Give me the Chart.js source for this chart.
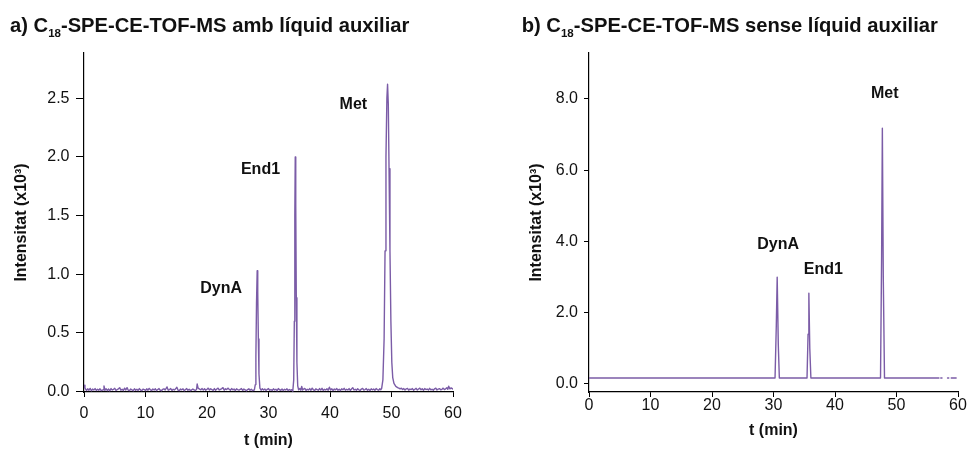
<!DOCTYPE html>
<html>
<head>
<meta charset="utf-8">
<title>C18-SPE-CE-TOF-MS</title>
<script src="https://cdn.jsdelivr.net/npm/chart.js@4/dist/chart.umd.min.js"></script>
<style>
  html, body { margin: 0; padding: 0; background: #fff; }
  #wrap { position: relative; width: 974px; height: 451px; overflow: hidden; }
  .panel { position: absolute; top: 0; width: 487px; height: 451px; }
</style>
</head>
<body>
<div id="wrap">
  <div class="panel" style="left:0"><canvas id="chartA" width="487" height="451"></canvas></div>
  <div class="panel" style="left:487px"><canvas id="chartB" width="487" height="451"></canvas></div>
</div>
<script>
const FONT = "'Liberation Sans', Arial, Helvetica, sans-serif";
const TRACE = '#7b5ca7';
const INK = '#111';

// shared time axis (min)
const xTicks = [0, 10, 20, 30, 40, 50, 60];
// intensity ticks (x10^3)
const yTicksA = [0, 0.5, 1.0, 1.5, 2.0, 2.5];
const yTicksB = [0, 2, 4, 6, 8];

// a) electropherogram with sheath liquid
const timeA = [
  0.00, 0.15, 0.40, 0.60, 0.80, 1.00, 1.20, 1.40, 1.60, 1.80, 2.00, 2.20, 2.40, 2.60, 2.80, 3.10, 3.25, 3.40, 3.60, 3.80,
  4.00, 4.20, 4.40, 4.60, 4.80, 5.00, 5.20, 5.40, 5.60, 5.80, 6.00, 6.20, 6.40, 6.60, 6.80, 7.00, 7.20, 7.40, 7.60, 7.80,
  8.00, 8.20, 8.40, 8.60, 8.80, 9.00, 9.20, 9.40, 9.60, 9.80, 10.00, 10.20, 10.40, 10.60, 10.80, 11.00, 11.20, 11.40, 11.60, 11.80,
  12.00, 12.20, 12.40, 12.60, 12.80, 13.00, 13.20, 13.50, 13.70, 13.90, 14.10, 14.30, 14.50, 14.70, 14.90, 15.10, 15.30, 15.50, 15.70, 15.90,
  16.10, 16.30, 16.50, 16.70, 16.90, 17.10, 17.30, 17.50, 17.70, 17.90, 18.10, 18.30, 18.40, 18.55, 18.80, 19.00, 19.20, 19.40, 19.60, 19.80,
  20.00, 20.20, 20.40, 20.60, 20.80, 21.00, 21.20, 21.40, 21.60, 21.80, 22.00, 22.20, 22.40, 22.60, 22.80, 23.00, 23.20, 23.40, 23.60, 23.80,
  24.00, 24.20, 24.40, 24.60, 24.80, 25.00, 25.20, 25.40, 25.60, 25.80, 26.00, 26.20, 26.40, 26.60, 26.80, 27.00, 27.20, 27.40, 27.70,
  27.85, 27.95, 28.05, 28.16, 28.25, 28.35, 28.45, 28.60, 28.80,
  29.00, 29.20, 29.40, 29.60, 29.80, 30.00, 30.20, 30.40, 30.60, 30.80, 31.00, 31.20, 31.40, 31.60, 31.80, 32.00, 32.20, 32.40, 32.60, 32.80,
  33.00, 33.20, 33.40, 33.60, 33.80, 33.95,
  34.10, 34.20, 34.28, 34.35, 34.43, 34.52, 34.62, 34.75, 34.90,
  35.10, 35.25, 35.40, 35.55, 35.70, 35.90, 36.10, 36.30, 36.50, 36.70, 36.90, 37.10, 37.30, 37.50, 37.70, 37.90, 38.10, 38.30, 38.50, 38.70,
  38.90, 39.10, 39.30, 39.50, 39.70, 39.90, 40.10, 40.30, 40.50, 40.70, 40.90, 41.10, 41.30, 41.50, 41.70, 41.90, 42.10, 42.30, 42.50, 42.70,
  42.90, 43.10, 43.30, 43.50, 43.70, 43.90, 44.10, 44.30, 44.50, 44.70, 44.90, 45.10, 45.30, 45.50, 45.70, 45.90, 46.10, 46.30, 46.50, 46.70,
  46.90, 47.10, 47.30, 47.50, 47.70, 47.90, 48.10, 48.25, 48.40,
  48.60, 48.80, 48.95, 49.10, 49.25, 49.36, 49.48, 49.60, 49.75, 49.90, 50.05, 50.20, 50.40, 50.70, 51.00,
  51.20, 51.40, 51.60, 51.80, 52.00, 52.20, 52.40, 52.60, 52.80, 53.00, 53.20, 53.40, 53.60, 53.80, 54.00, 54.20, 54.40, 54.60, 54.80, 55.00,
  55.20, 55.40, 55.60, 55.80, 56.00, 56.20, 56.40, 56.60, 56.80, 57.00, 57.20, 57.40, 57.60, 57.80, 58.00, 58.20, 58.40, 58.60, 58.80, 59.00,
  59.15, 59.30, 59.50, 59.70, 60.00
];
const intA = [
  0.055, 0.030, 0.010, 0.024, 0.012, 0.028, 0.008, 0.022, 0.014, 0.026, 0.010, 0.020, 0.012, 0.024, 0.009, 0.016, 0.048, 0.012, 0.024, 0.010,
  0.022, 0.008, 0.026, 0.014, 0.020, 0.028, 0.010, 0.018, 0.024, 0.034, 0.012, 0.020, 0.010, 0.030, 0.014, 0.034, 0.012, 0.010, 0.022, 0.016,
  0.008, 0.024, 0.012, 0.020, 0.010, 0.026, 0.014, 0.009, 0.022, 0.018, 0.010, 0.024, 0.012, 0.028, 0.016, 0.010, 0.022, 0.014, 0.024, 0.009,
  0.018, 0.026, 0.012, 0.008, 0.020, 0.024, 0.014, 0.040, 0.012, 0.018, 0.026, 0.010, 0.020, 0.014, 0.024, 0.038, 0.012, 0.010, 0.022, 0.016,
  0.024, 0.008, 0.018, 0.026, 0.012, 0.020, 0.010, 0.014, 0.022, 0.016, 0.010, 0.018, 0.065, 0.030, 0.022, 0.016, 0.026, 0.014, 0.024, 0.012,
  0.020, 0.030, 0.014, 0.024, 0.018, 0.010, 0.026, 0.012, 0.022, 0.030, 0.014, 0.020, 0.026, 0.034, 0.012, 0.024, 0.018, 0.030, 0.020, 0.012,
  0.026, 0.016, 0.022, 0.010, 0.024, 0.018, 0.012, 0.020, 0.026, 0.010, 0.022, 0.016, 0.008, 0.018, 0.024, 0.012, 0.020, 0.010, 0.014,
  0.060, 0.300, 0.750, 1.030, 0.850, 0.450, 0.150, 0.030, 0.012,
  0.024, 0.014, 0.022, 0.010, 0.020, 0.026, 0.012, 0.018, 0.010, 0.024, 0.014, 0.020, 0.008, 0.026, 0.016, 0.012, 0.022, 0.010, 0.020, 0.014,
  0.024, 0.010, 0.018, 0.012, 0.016, 0.004,
  0.100, 0.600, 1.500, 2.000, 1.600, 0.800, 0.250, 0.050, 0.015,
  0.026, 0.012, 0.045, 0.014, 0.022, 0.028, 0.010, 0.020, 0.014, 0.026, 0.012, 0.030, 0.016, 0.010, 0.024, 0.018, 0.012, 0.026, 0.014, 0.028,
  0.010, 0.020, 0.014, 0.024, 0.012, 0.038, 0.014, 0.024, 0.010, 0.022, 0.016, 0.026, 0.012, 0.020, 0.010, 0.024, 0.016, 0.028, 0.012, 0.020,
  0.014, 0.026, 0.010, 0.022, 0.034, 0.014, 0.020, 0.012, 0.024, 0.016, 0.010, 0.022, 0.028, 0.014, 0.018, 0.026, 0.012, 0.020, 0.010, 0.024,
  0.016, 0.022, 0.012, 0.026, 0.018, 0.012, 0.024, 0.016, 0.028,
  0.100, 0.450, 1.200, 2.000, 2.500, 2.620, 2.450, 1.900, 1.200, 0.600, 0.250, 0.120, 0.070, 0.045, 0.035,
  0.030, 0.024, 0.030, 0.018, 0.026, 0.014, 0.024, 0.028, 0.012, 0.022, 0.018, 0.026, 0.012, 0.020, 0.028, 0.014, 0.022, 0.030, 0.016, 0.024,
  0.012, 0.026, 0.018, 0.022, 0.014, 0.028, 0.016, 0.020, 0.012, 0.024, 0.030, 0.014, 0.022, 0.026, 0.016, 0.020, 0.030, 0.018, 0.024, 0.034,
  0.020, 0.046, 0.024, 0.032, 0.022
];

// b) electropherogram without sheath liquid
const timeB = [
  0.00, 30.25, 30.45, 30.60, 30.78, 30.95,
  35.45, 35.62, 35.75, 35.90, 36.08,
  47.40, 47.58, 47.70, 47.85, 48.05,
  56.90, 57.00, 57.20, 57.40, 57.60, 58.30, 58.50, 58.70, 58.90, 59.70
];
const intB = [
  0.17, 0.17, 1.60, 3.00, 1.10, 0.17,
  0.17, 1.40, 2.55, 1.00, 0.17,
  0.17, 3.60, 7.18, 3.00, 0.17,
  0.17, null, 0.17, 0.17, null, 0.17, 0.17, null, 0.17, 0.17
];

const peakNames = ['DynA', 'End1', 'Met'];
// label anchors in data units (time, intensity)
const tagTimeA = [22.3, 28.7, 43.8];
const tagIntA = [0.88, 1.89, 2.45];
const tagTimeB = [30.75, 38.1, 48.1];
const tagIntB = [3.92, 3.2, 8.14];

function drawTitle(ctx, x, base, lead, sub, tail) {
  ctx.save();
  ctx.fillStyle = INK;
  ctx.textBaseline = 'alphabetic';
  ctx.textAlign = 'left';
  ctx.font = 'bold 20.2px ' + FONT;
  ctx.fillText(lead, x, base);
  x += ctx.measureText(lead).width;
  ctx.font = 'bold 11.5px ' + FONT;
  ctx.fillText(sub, x, base + 5);
  x += ctx.measureText(sub).width;
  ctx.font = 'bold 20.2px ' + FONT;
  ctx.fillText(tail, x, base);
  ctx.restore();
}

function build(canvasId, opt) {
  const annotate = {
    id: 'annotate',
    afterDatasetsDraw(chart) {
      const { ctx, scales } = chart;
      ctx.save();
      ctx.fillStyle = INK;
      ctx.font = 'bold 16px ' + FONT;
      ctx.textAlign = 'center';
      ctx.textBaseline = 'middle';
      peakNames.forEach((name, i) => {
        ctx.fillText(name, scales.x.getPixelForValue(opt.tagT[i]), scales.y.getPixelForValue(opt.tagI[i]));
      });
      ctx.restore();
      drawTitle(ctx, opt.titleX, 31.5, opt.title[0], opt.title[1], opt.title[2]);
    }
  };

  return new Chart(document.getElementById(canvasId), {
    type: 'line',
    data: {
      datasets: [{
        data: opt.t.map((t, i) => ({ x: t, y: opt.v[i] })),
        borderColor: TRACE,
        borderWidth: 1.4,
        borderJoinStyle: 'round',
        borderCapStyle: 'round',
        pointRadius: 0,
        tension: 0,
        fill: false,
        spanGaps: false
      }]
    },
    options: {
      responsive: false,
      animation: false,
      events: [],
      layout: { padding: { left: 0, top: 53, right: opt.padRight, bottom: 0 } },
      plugins: { legend: { display: false }, tooltip: { enabled: false }, title: { display: false } },
      scales: {
        x: {
          type: 'linear', min: 0, max: 60,
          afterBuildTicks: s => { s.ticks = xTicks.map(v => ({ value: v })); },
          afterFit: s => { s.height = 59; s.paddingLeft = 0; s.paddingRight = 0; },
          ticks: { font: { family: FONT, size: 16 }, color: INK, padding: opt.xPad, maxRotation: 0, autoSkip: false },
          grid: { drawOnChartArea: false, drawTicks: true, tickLength: 5, tickColor: '#000', color: '#000' },
          border: { display: true, color: '#000', width: 1.2 },
          title: { display: true, text: 't (min)', color: INK, font: { family: FONT, size: 16, weight: 'bold' },
                   padding: { top: 0, bottom: opt.xTitlePad } }
        },
        y: {
          type: 'linear', min: opt.yMin, max: opt.yMax,
          afterBuildTicks: s => { s.ticks = opt.yTicks.map(v => ({ value: v })); },
          afterFit: s => { s.width = opt.yWidth; s.paddingTop = 0; s.paddingBottom = 0; },
          ticks: { font: { family: FONT, size: 16 }, color: INK, padding: opt.yPad, callback: v => Number(v).toFixed(1) },
          grid: { drawOnChartArea: false, drawTicks: true, tickLength: opt.yTick, tickColor: '#000', color: '#000' },
          border: { display: true, color: '#000', width: 1.2 },
          title: { display: true, text: 'Intensitat (x10³)', color: INK, font: { family: FONT, size: 16, weight: 'bold' },
                   padding: { top: opt.yTitlePad, bottom: 0 } }
        }
      }
    },
    plugins: [annotate]
  });
}

build('chartA', {
  t: timeA, v: intA, tagT: tagTimeA, tagI: tagIntA, yTicks: yTicksA,
  yMin: -0.003, yMax: 2.886, yWidth: 84, padRight: 34,
  yPad: 6.5, yTick: 8, xPad: 7, xTitlePad: 1, yTitlePad: 12,
  titleX: 10, title: ['a) C', '18', '-SPE-CE-TOF-MS amb líquid auxiliar']
});

build('chartB', {
  t: timeB, v: intB, tagT: tagTimeB, tagI: tagIntB, yTicks: yTicksB,
  yMin: -0.225, yMax: 9.29, yWidth: 102, padRight: 16,
  yPad: 6, yTick: 5, xPad: -1.5, xTitlePad: 11, yTitlePad: 40,
  titleX: 34.7, title: ['b) C', '18', '-SPE-CE-TOF-MS sense líquid auxiliar']
});
</script>
</body>
</html>
